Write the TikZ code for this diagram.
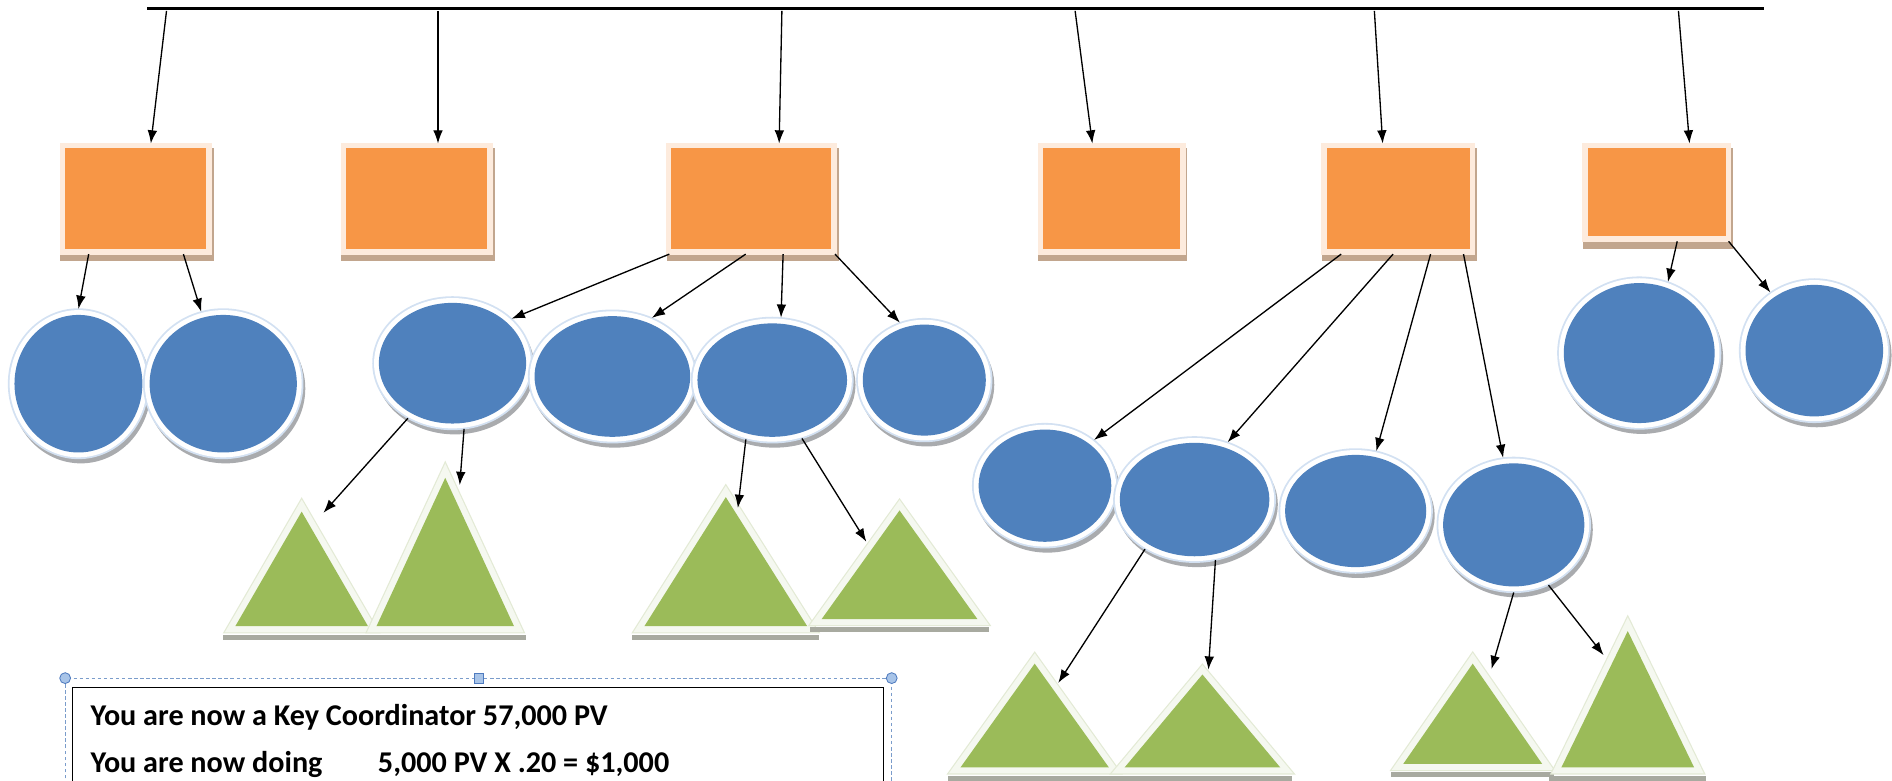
\documentclass[tikz,border=0pt]{standalone}
\usepackage{fontspec}
\setmainfont{Carlito}
\usetikzlibrary{arrows.meta,shapes.geometric,calc}
\definecolor{orangeF}{HTML}{F79646}
\definecolor{blueF}{HTML}{4F81BD}
\definecolor{greenF}{HTML}{9BBB59}
\definecolor{peach}{HTML}{FDEBDD}
\definecolor{tanS}{HTML}{C2A68E}
\definecolor{rimB}{HTML}{D3E1F2}
\definecolor{shadowB}{HTML}{A9ABAE}
\definecolor{triH}{HTML}{F5F8F0}
\definecolor{triR}{HTML}{E3EAD5}
\definecolor{triS}{HTML}{A8AAA0}
\definecolor{selc}{HTML}{7A9CCB}
\definecolor{handleF}{HTML}{A8C4E8}
\definecolor{handleD}{HTML}{4F7BBF}
\begin{document}
\begin{tikzpicture}[x=1pt,y=-1pt,
  arr/.style={-{Latex[length=11pt,width=8pt]}, line width=1.1pt, black},
  box/.style={rectangle, inner sep=0pt, outer sep=4pt, fill=orangeF,
    preaction={draw=tanS, fill=tanS, line width=10pt, transform canvas={xshift=1pt,yshift=-5pt}},
    preaction={draw=peach, line width=9pt}},
  ball/.style={ellipse, inner sep=0pt, outer sep=5pt, fill=blueF,
    preaction={draw=shadowB, fill=shadowB, line width=10pt, transform canvas={xshift=2pt,yshift=-4pt}},
    preaction={draw=rimB, line width=11pt},
    preaction={draw=white, line width=8pt}},
  trinode/.style={rectangle, inner sep=0pt, outer sep=0pt, draw=none},
  handle/.style={fill=handleF, draw=handleD, line width=0.7pt, inner sep=0pt, minimum size=8pt},
  txt/.style={anchor=base west, inner sep=0pt, font=\bfseries\fontsize{25}{30}\selectfont}
]
\useasboundingbox (0,0) rectangle (1568,647);

% top bar
\coordinate (L) at (122,7);
\coordinate (R) at (1462,7);
\draw[line width=3.2pt] (L) -- (R);
\coordinate (s1) at (138,9);
\coordinate (s2) at (363,9);
\coordinate (s3) at (648,9);
\coordinate (s4) at (891,9);
\coordinate (s5) at (1139,9);
\coordinate (s6) at (1391,9);

% boxes
\node[box, minimum width=117pt, minimum height=83.6pt] (B1) at (112.5,164.8) {};
\node[box, minimum width=117pt, minimum height=83.6pt] (B2) at (345.5,164.8) {};
\node[box, minimum width=132.6pt, minimum height=83.6pt] (B3) at (622.7,164.8) {};
\node[box, minimum width=113.4pt, minimum height=83.6pt] (B4) at (921.3,164.8) {};
\node[box, minimum width=118.7pt, minimum height=83.6pt] (B5) at (1158.9,164.8) {};
\node[box, minimum width=114.5pt, minimum height=73pt] (B6) at (1373.2,159.5) {};

% circles
\node[ball, minimum width=106pt, minimum height=114pt] (C1) at (65,318) {};
\node[ball, minimum width=122pt, minimum height=114pt] (C2) at (185,318) {};
\node[ball, minimum width=122pt, minimum height=100pt] (C3) at (375,301) {};
\node[ball, minimum width=129pt, minimum height=100pt] (C4) at (507.5,312) {};
\node[ball, minimum width=124pt, minimum height=94pt] (C5) at (640,315) {};
\node[ball, minimum width=102pt, minimum height=92pt] (C6) at (766,315) {};
\node[ball, minimum width=125pt, minimum height=116pt] (C7) at (1358.5,292.6) {};
\node[ball, minimum width=114pt, minimum height=109pt] (C8) at (1503.6,290.6) {};
\node[ball, minimum width=110pt, minimum height=93pt] (D1) at (866,402.5) {};
\node[ball, minimum width=124pt, minimum height=94pt] (D2) at (990,414) {};
\node[ball, minimum width=117pt, minimum height=93pt] (D3) at (1123.5,423.5) {};
\node[ball, minimum width=117pt, minimum height=102pt] (D4) at (1254.5,435) {};

% triangles
\node[trinode, minimum width=110pt, minimum height=95pt] (T1) at (250,471.5) {};
\node[trinode, minimum width=114pt, minimum height=123pt] (T2) at (369,457.5) {};
\node[trinode, minimum width=135pt, minimum height=107pt] (T3) at (601.5,465.5) {};
\node[trinode, minimum width=129pt, minimum height=90pt] (T4) at (745.5,468) {};
\node[trinode, minimum width=123pt, minimum height=86pt] (T5) at (857.5,593) {};
\node[trinode, minimum width=129pt, minimum height=77pt] (T6) at (996.5,597.5) {};
\node[trinode, minimum width=115pt, minimum height=83pt] (T7) at (1220.5,591.5) {};
\node[trinode, minimum width=110pt, minimum height=113pt] (T8) at (1349,579.5) {};
\foreach \t in {T1,T2,T3,T4,T5,T6,T7,T8}{
  \fill[triS] ([shift={(-10,7)}]\t.south west) rectangle ([shift={(10,11)}]\t.south east);
  \path[fill=greenF,
        preaction={draw=triR, line width=12pt, line join=miter, miter limit=10},
        preaction={draw=triH, line width=10pt, line join=miter, miter limit=10}]
    (\t.south west) -- (\t.north) -- (\t.south east) -- cycle;
}

% arrows from top bar
\draw[arr] (s1) -- ([shift={(12.5,0)}]B1.north);
\draw[arr] (s2) -- ([shift={(17.5,0)}]B2.north);
\draw[arr] (s3) -- ([shift={(23,0)}]B3.north);
\draw[arr] (s4) -- ([shift={(-16,0)}]B4.north);
\draw[arr] (s5) -- ([shift={(-13,0)}]B5.north);
\draw[arr] (s6) -- ([shift={(27,0)}]B6.north);

% boxes to circles
\draw[arr] ([shift={(-39,0)}]B1.south) -- (C1.north);
\draw[arr] ([shift={(39.5,0)}]B1.south) -- (C2.107.6);
\draw[arr] ([shift={(-68,0)}]B3.south) -- (C3.37);
\draw[arr] ([shift={(-4.7,0)}]B3.south) -- (C4.56);
\draw[arr] ([shift={(26.3,0)}]B3.south) -- (C5.82);
\draw[arr] ([shift={(69.3,0)}]B3.south) -- (C6.113);
\draw[arr] ([shift={(-47.4,0)}]B5.south) -- (D1.43);
\draw[arr] ([shift={(-4.4,0)}]B5.south) -- (D2.60);
\draw[arr] ([shift={(26.7,0)}]B5.south) -- (D3.71);
\draw[arr] ([shift={(54,0)}]B5.south) -- (D4.99);
\draw[arr] ([shift={(16.8,0)}]B6.south) -- (C7.68);
\draw[arr] ([shift={(59.4,0)}]B6.south) -- (C8.127);

% circles to triangles
\draw[arr] (C3.231) -- ([shift={(18,1)}]T1.north);
\draw[arr] (C3.280) -- ([shift={(12,6)}]T2.north);
\draw[arr] (C5.246) -- ([shift={(10,9)}]T3.north);
\draw[arr] (C5.297) -- ([shift={(-27.5,26)}]T4.north);
\draw[arr] (D2.225) -- ([shift={(19.5,16)}]T5.north);
\draw[arr] (D2.289) -- ([shift={(5,-4)}]T6.north);
\draw[arr] (D4.270) -- ([shift={(15.5,4.5)}]T7.north);
\draw[arr] (D4.300) -- ([shift={(-20,20)}]T8.north);

% text box
\node[draw=black, line width=0.9pt, inner sep=0pt, anchor=north west,
      minimum width=672pt, minimum height=140pt] (tb) at (60,569) {};
\draw[selc, line width=0.9pt, dash pattern=on 3pt off 2pt]
  (54,720) -- (54,562) -- (739,562) -- (739,720);
\node[handle, circle, minimum size=9pt] (h1) at (54,562) {};
\node[handle, circle, minimum size=9pt] (h2) at (739,562) {};
\node[handle, rectangle] (h3) at (397,562) {};
\node[txt] (t1) at (75,601) {You are now a Key Coordinator 57,000 PV};
\node[txt] (t2) at (75,640) {\makebox[238pt][l]{You are now doing}5,000 PV X .20 = \$1,000};
\end{tikzpicture}
\end{document}
